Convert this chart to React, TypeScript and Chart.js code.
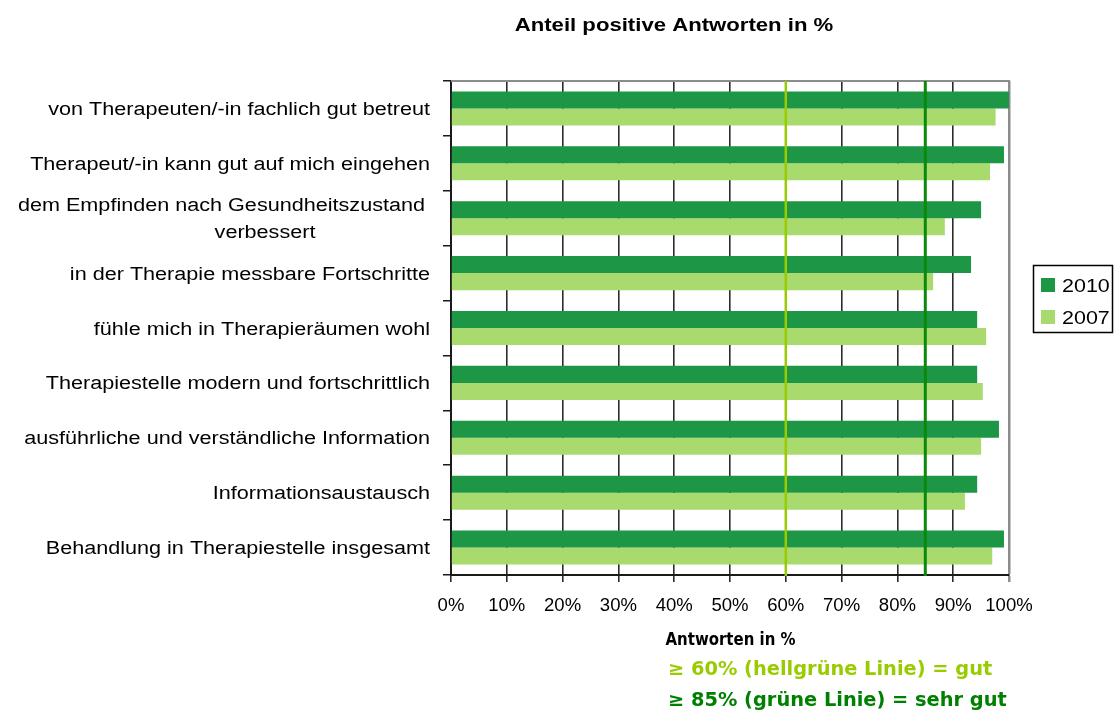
import React, { useEffect, useRef } from "react";
import { Chart, registerables } from "chart.js";

Chart.register(...registerables);

const TITLE = "Anteil positive Antworten in %";
const categories: (string | string[])[] = [
  "von Therapeuten/-in fachlich gut betreut",
  "Therapeut/-in kann gut auf mich eingehen",
  ["dem Empfinden nach Gesundheitszustand", "verbessert"],
  "in der Therapie messbare Fortschritte",
  "fühle mich in Therapieräumen wohl",
  "Therapiestelle modern und fortschrittlich",
  "ausführliche und verständliche Information",
  "Informationsaustausch",
  "Behandlung in Therapiestelle insgesamt",
];
const values2010 = [100, 99.1, 95.0, 93.2, 94.3, 94.3, 98.2, 94.3, 99.1];
const values2007 = [97.6, 96.6, 88.5, 86.4, 95.9, 95.3, 95.0, 92.1, 97.0];
const seriesNames = ["2010", "2007"];
const xTicks = [0, 10, 20, 30, 40, 50, 60, 70, 80, 90, 100];
const thresholds = [60, 85];
const axisTitle = "Antworten in %";
const noteLines = ["≥ 60% (hellgrüne Linie) = gut", "≥ 85% (grüne Linie) = sehr gut"];

const DARK = "#1d9645";
const LIGHT = "#a9da6e";
const LINE60 = "#99cc00";
const LINE85 = "#0a8a0a";
const SANS = '"Liberation Sans", Arial, sans-serif';
const VERD = '"DejaVu Sans", Verdana, sans-serif';

function drawText(
  ctx: CanvasRenderingContext2D,
  text: string,
  x: number,
  y: number,
  font: string,
  color: string,
  align: CanvasTextAlign,
  sx: number
) {
  ctx.save();
  ctx.translate(x, y);
  ctx.scale(sx, 1);
  ctx.font = font;
  ctx.fillStyle = color;
  ctx.textAlign = align;
  ctx.textBaseline = "alphabetic";
  ctx.fillText(text, 0, 0);
  ctx.restore();
}

const decorPlugin = {
  id: "decor",
  beforeDatasetsDraw(chart: any) {
    const ctx = chart.ctx as CanvasRenderingContext2D;
    const ca = chart.chartArea;
    ctx.save();
    ctx.strokeStyle = "#8c8c8c";
    ctx.lineWidth = 2;
    ctx.beginPath();
    ctx.moveTo(ca.left, ca.top);
    ctx.lineTo(ca.right + 1, ca.top);
    ctx.stroke();
    ctx.restore();
  },
  afterDatasetsDraw(chart: any) {
    const ctx = chart.ctx as CanvasRenderingContext2D;
    const ca = chart.chartArea;
    const xs = chart.scales.x;
    const cols = [LINE60, LINE85];
    const widths = [2.5, 3];
    thresholds.forEach((t, i) => {
      const px = xs.getPixelForValue(t);
      ctx.save();
      ctx.strokeStyle = cols[i];
      ctx.lineWidth = widths[i];
      ctx.beginPath();
      ctx.moveTo(px, ca.top);
      ctx.lineTo(px, ca.bottom + 1);
      ctx.stroke();
      ctx.restore();
    });
  },
  afterDraw(chart: any) {
    const ctx = chart.ctx as CanvasRenderingContext2D;
    const ca = chart.chartArea;
    const xs = chart.scales.x;
    const ys = chart.scales.y;
    // title
    drawText(ctx, TITLE, 674, 31, `bold 18px ${SANS}`, "#000", "center", 1.23);
    // category labels
    categories.forEach((lab, i) => {
      const cy = ys.getPixelForValue(i);
      const right = ca.left - 21;
      if (Array.isArray(lab)) {
        drawText(ctx, lab[0], right - 5, cy - 13.5 + 6.5, `18px ${SANS}`, "#000", "right", 1.2);
        drawText(ctx, lab[1], right - 165, cy + 13.5 + 6.5, `18px ${SANS}`, "#000", "center", 1.2);
      } else {
        drawText(ctx, lab, right, cy + 6.5, `18px ${SANS}`, "#000", "right", 1.2);
      }
    });
    // x tick labels
    xTicks.forEach((v) => {
      const px = xs.getPixelForValue(v);
      drawText(ctx, v + "%", px, ca.bottom + 36, `17.5px ${SANS}`, "#000", "center", 1.06);
    });
    // legend
    ctx.save();
    ctx.strokeStyle = "#000";
    ctx.lineWidth = 1.5;
    ctx.strokeRect(1033.5, 265.5, 79, 67);
    ctx.restore();
    chart.data.datasets.forEach((ds: any, i: number) => {
      const top = 278 + i * 32;
      ctx.fillStyle = ds.backgroundColor;
      ctx.fillRect(1041, top, 14, 14);
      drawText(ctx, ds.label, 1062, top + 14, `19px ${SANS}`, "#000", "left", 1.13);
    });
    // axis title + notes
    drawText(ctx, axisTitle, 730.5, 645, `bold 17px ${VERD}`, "#000", "center", 0.88);
    drawText(ctx, noteLines[0], 668, 675, `bold 19px ${VERD}`, LINE60, "left", 1.02);
    drawText(ctx, noteLines[1], 668, 706, `bold 19px ${VERD}`, "#008000", "left", 1.02);
  },
};

export default function App() {
  const ref = useRef<HTMLCanvasElement | null>(null);
  useEffect(() => {
    if (!ref.current) return;
    const chart = new Chart(ref.current, {
      type: "bar",
      data: {
        labels: categories,
        datasets: [
          { label: seriesNames[0], data: values2010, backgroundColor: DARK, borderWidth: 0 },
          { label: seriesNames[1], data: values2007, backgroundColor: LIGHT, borderWidth: 0 },
        ],
      },
      options: {
        indexAxis: "y",
        responsive: false,
        animation: false,
        devicePixelRatio: 1,
        datasets: { bar: { categoryPercentage: 0.62, barPercentage: 1 } },
        layout: { padding: { top: 81, left: 0, right: 107, bottom: 98 } },
        plugins: { legend: { display: false }, title: { display: false }, tooltip: { enabled: false } },
        scales: {
          x: {
            min: 0,
            max: 100,
            afterFit: (s: any) => { s.height = 40; },
            afterBuildTicks: (s: any) => { s.ticks = xTicks.map((v) => ({ value: v })); },
            ticks: { display: false },
            grid: {
              color: (c: any) => (c.tick && c.tick.value === 100 ? "#8c8c8c" : "#2b2b2b"),
              lineWidth: (c: any) => (c.tick && c.tick.value === 100 ? 2.5 : 1.6),
              drawTicks: true,
              tickLength: 7,
            },
            border: { display: true, color: "#1a1a1a", width: 2 },
          },
          y: {
            afterFit: (s: any) => { s.width = 451; },
            ticks: { display: false },
            grid: { offset: true, drawOnChartArea: false, drawTicks: true, tickLength: 8, color: "#1a1a1a", lineWidth: 1.5 },
            border: { display: true, color: "#1a1a1a", width: 2 },
          },
        },
      },
      plugins: [decorPlugin],
    } as any);
    return () => chart.destroy();
  }, []);
  return (
    <div style={{ position: "absolute", left: 0, top: 0, width: 1116, height: 713, background: "#fff" }}>
      <canvas ref={ref} width={1116} height={713} style={{ display: "block" }} />
    </div>
  );
}
